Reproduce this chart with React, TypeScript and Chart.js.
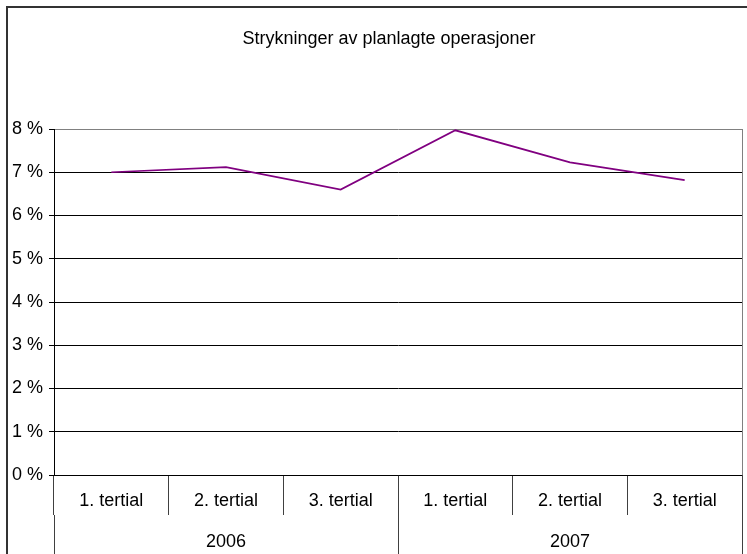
import React, { useEffect, useRef } from "react";
import { Chart, registerables } from "chart.js";

Chart.register(...registerables);

const chartTitle = "Strykninger av planlagte operasjoner";
const years = ["2006", "2007"];
const tertials = ["1. tertial", "2. tertial", "3. tertial"];
const strykninger = [7.0, 7.12, 6.6, 7.97, 7.23, 6.82];
const yMin = 0;
const yMax = 8;
const yStep = 1;

const FONT = '"Liberation Sans", Arial, sans-serif';
const FONT_SIZE = 18;

export default function App() {
  const ref = useRef<HTMLCanvasElement>(null);

  useEffect(() => {
    document.body.style.margin = "0";
    const canvas = ref.current;
    if (!canvas) return;
    const labels = years.flatMap(() => tertials);

    const framePlugin = {
      id: "frame",
      afterDraw(chart: any) {
        const { ctx, chartArea } = chart;
        ctx.save();
        // outer chart frame
        ctx.strokeStyle = "#333333";
        ctx.lineWidth = 2;
        ctx.strokeRect(7, 7, 900, 700);
        // right plot border
        const rx = Math.round(chartArea.right - 0.5) + 0.5;
        ctx.strokeStyle = "#808080";
        ctx.lineWidth = 1;
        ctx.beginPath();
        ctx.moveTo(rx, chartArea.top);
        ctx.lineTo(rx, chartArea.bottom);
        ctx.stroke();
        ctx.strokeStyle = "#404040";
        ctx.beginPath();
        ctx.moveTo(rx, chartArea.bottom);
        ctx.lineTo(rx, chart.height);
        ctx.stroke();
        // title
        ctx.fillStyle = "#000";
        ctx.font = `${FONT_SIZE}px ${FONT}`;
        ctx.textAlign = "center";
        ctx.textBaseline = "middle";
        ctx.fillText(chartTitle, 389, 39);
        ctx.restore();
      },
    };

    const chart = new Chart(canvas, {
      type: "line",
      data: {
        labels,
        datasets: [
          {
            label: chartTitle,
            data: strykninger,
            borderColor: "#800080",
            backgroundColor: "#800080",
            borderWidth: 1.75,
            pointRadius: 0,
            tension: 0,
            fill: false,
            xAxisID: "x",
            yAxisID: "y",
          },
        ],
      },
      options: {
        responsive: false,
        animation: false,
        events: [],
        layout: { padding: { top: 129, right: 5, left: 0, bottom: 0 } },
        plugins: {
          legend: { display: false },
          title: { display: false },
          tooltip: { enabled: false },
        },
        scales: {
          y: {
            min: yMin,
            max: yMax,
            afterFit: (s: any) => {
              s.width = 54;
            },
            ticks: {
              stepSize: yStep,
              color: "#000",
              padding: 6,
              font: { family: FONT, size: FONT_SIZE },
              callback: (v: any) => `${v} %`,
            },
            grid: {
              color: (c: any) => (c.tick && c.tick.value === yMax ? "#808080" : "#000000"),
              tickColor: "#000000",
              tickLength: 5,
              lineWidth: 1,
            },
            border: { display: true, color: "#000000", width: 1 },
          },
          x: {
            type: "category",
            position: "bottom",
            weight: 0,
            offset: true,
            afterFit: (s: any) => {
              s.height = 40;
            },
            ticks: {
              color: "#000",
              autoSkip: false,
              maxRotation: 0,
              minRotation: 0,
              padding: -25,
              font: { family: FONT, size: FONT_SIZE },
            },
            grid: {
              offset: true,
              drawOnChartArea: false,
              drawTicks: true,
              tickLength: 40,
              color: "#404040",
              tickColor: "#404040",
              lineWidth: 1,
            },
            border: { display: true, color: "#000000", width: 1 },
          },
          x2: {
            type: "category",
            position: "bottom",
            weight: 1,
            labels: years,
            offset: true,
            afterFit: (s: any) => {
              s.height = 39;
            },
            ticks: {
              color: "#000",
              autoSkip: false,
              maxRotation: 0,
              minRotation: 0,
              padding: -23,
              font: { family: FONT, size: FONT_SIZE },
            },
            grid: {
              offset: true,
              drawOnChartArea: false,
              drawTicks: true,
              tickLength: 39,
              color: "#404040",
              tickColor: "#404040",
              lineWidth: 1,
            },
            border: { display: false },
          },
        },
      },
      plugins: [framePlugin],
    } as any);

    return () => chart.destroy();
  }, []);

  return (
    <div style={{ width: 747, height: 554 }}>
      <canvas ref={ref} width={747} height={554} style={{ display: "block" }} />
    </div>
  );
}
